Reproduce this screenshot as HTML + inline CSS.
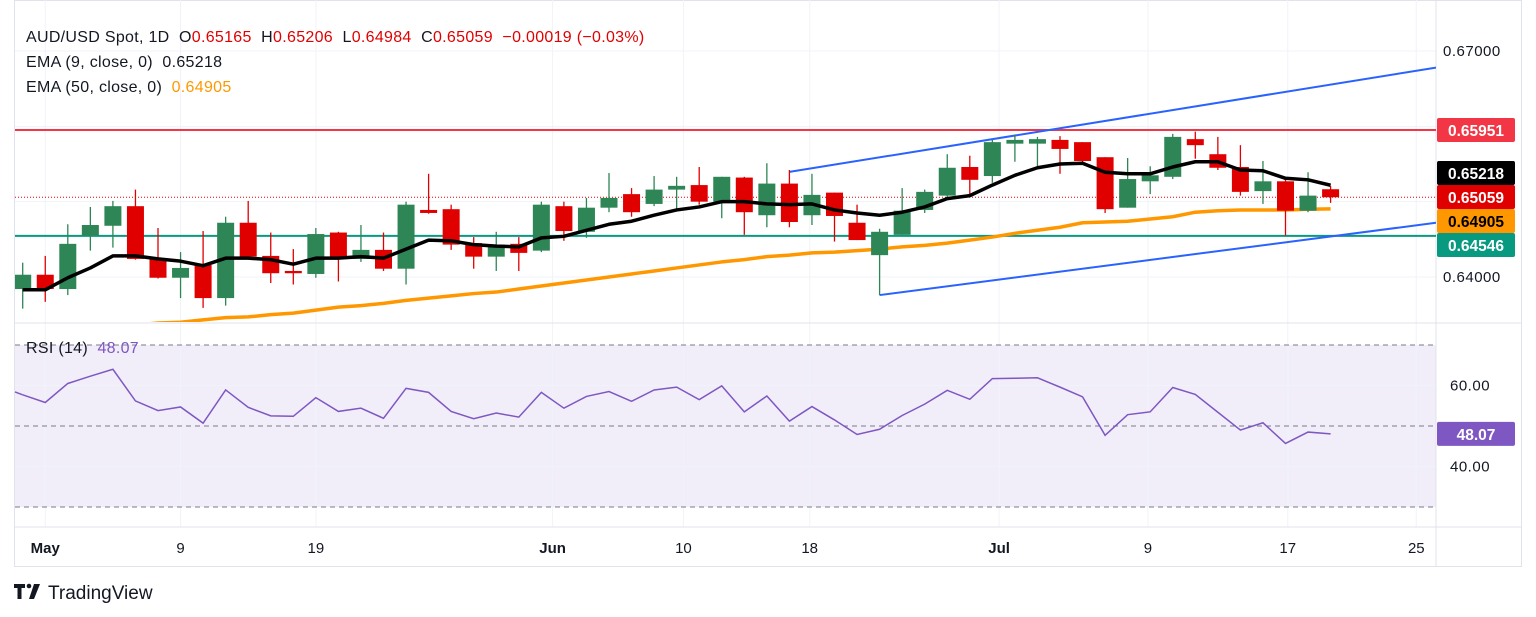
<!DOCTYPE html>
<html><head><meta charset="utf-8">
<style>
html,body{margin:0;padding:0;background:#fff;}
body{width:1536px;height:617px;position:relative;overflow:hidden;font-family:"Liberation Sans",sans-serif;}
svg{position:absolute;left:0;top:0;}
</style></head>
<body>
<svg id="chart" width="1536" height="617" xmlns="http://www.w3.org/2000/svg" font-family="Liberation Sans, sans-serif"></svg>
<script>
const opens=[.6384,.6403,.6384,.6455,.6468,.6494,.6425,.6399,.6416,.6372,.6472,.6428,.6408,.6404,.6459,.6424,.6436,.6411,.6489,.6490,.6445,.6427,.6444,.6435,.6494,.6460,.6492,.6510,.6497,.6516,.6522,.6500,.6532,.6482,.6524,.6482,.6512,.6472,.6429,.6456,.6489,.6508,.6546,.6534,.6577,.6577,.6582,.6579,.6559,.6492,.6527,.6533,.6583,.6563,.6546,.6514,.6527,.6488,.65165];
const highs=[.6419,.6428,.6470,.6493,.6501,.6516,.6465,.6433,.6461,.6480,.6501,.6459,.6437,.6465,.6460,.6469,.6459,.6500,.6537,.6496,.6453,.6460,.6453,.6500,.6500,.6505,.6538,.6518,.6534,.6533,.6546,.6533,.6533,.6551,.6542,.6537,.6512,.6496,.6464,.6518,.6516,.6563,.6561,.6583,.6589,.6586,.6587,.6579,.6559,.6558,.6547,.6590,.6593,.6586,.6575,.6554,.6533,.6539,.65206];
const lows=[.6358,.6367,.6376,.6435,.6439,.6423,.6398,.6372,.6359,.6362,.6424,.6392,.6390,.6399,.6394,.6420,.6408,.6390,.6484,.6436,.6411,.6408,.6408,.6433,.6448,.6452,.6486,.6480,.6494,.6489,.6496,.6478,.6456,.6466,.6466,.6469,.6447,.6449,.6376,.6456,.6485,.6506,.6510,.6525,.6553,.6543,.6537,.6549,.6485,.6492,.6510,.6530,.6557,.6542,.6508,.6497,.6455,.6486,.64984];
const closes=[.6403,.6384,.6444,.6469,.6494,.6424,.6399,.6412,.6372,.6472,.6427,.6405,.6405,.6457,.6424,.6436,.6411,.6496,.6485,.6443,.6427,.6443,.6432,.6496,.6461,.6492,.6505,.6486,.6516,.6521,.6500,.6533,.6486,.6524,.6473,.6509,.6481,.6449,.6460,.6488,.6513,.6545,.6529,.6579,.6582,.6583,.6570,.6554,.6490,.6530,.6535,.6586,.6575,.6545,.6513,.6527,.6488,.6508,.65059];
const ema9=[.6383,.6383,.6399,.6412,.6428,.6428,.6424,.6421,.6415,.6425,.6425,.6423,.6417,.6425,.6425,.6427,.6425,.6437,.6449,.6448,.6443,.6441,.6440,.6452,.6454,.6462,.6470,.6474,.6482,.6489,.6493,.6500,.6500,.6497,.6496,.6497,.6489,.6485,.6482,.6486,.6493,.6504,.6508,.6522,.6535,.6545,.6550,.6551,.6539,.6537,.6537,.6546,.6553,.6553,.6542,.6541,.6531,.6529,.65218];
const ema50=[.6330,.6331,.6332,.6334,.6335,.6336,.6339,.6340,.6343,.6346,.6347,.6350,.6352,.6356,.6360,.6362,.6365,.6369,.6372,.6375,.6378,.6380,.6384,.6388,.6392,.6396,.6400,.6404,.6408,.6412,.6416,.6420,.6423,.6427,.6429,.6432,.6433,.6435,.6437,.6440,.6442,.6445,.6449,.6453,.6458,.6462,.6466,.6472,.6473,.6474,.6477,.6480,.6486,.6488,.6489,.6489,.6489,.6490,.64905];
const rsi=[57.7,55.8,60.5,62.3,64.0,56.2,53.8,54.7,50.7,58.9,54.6,52.5,52.4,57.0,53.6,54.4,51.9,59.3,58.3,53.6,51.8,53.2,52.2,58.3,54.4,57.3,58.5,56.1,58.9,59.6,56.5,59.9,53.5,57.4,51.2,54.8,51.5,47.9,49.2,52.6,55.4,58.8,56.6,61.7,61.8,61.9,59.6,57.2,47.7,52.8,53.5,59.5,57.8,53.4,49.0,50.8,45.7,48.5,48.07];
const xLabels=["May","9","19","Jun","10","18","Jul","9","17","25"];
const xLabelIdx=[1,7,13,23.5,29.3,34.9,43.3,49.9,56.1,61.8];
const priceTicks=[0.67,0.64];
const rsiTicks=[60,40];
const levels=[0.65951,0.64546];

const NS="http://www.w3.org/2000/svg";
const svg=document.getElementById('chart');
const X0=22.7, DX=22.55, L=15, R=1436;
const x=i=>X0+i*DX;
const y=p=>51+(0.67-p)*7533;
const ry=v=>426-(v-50)*4.05;
function el(tag,attrs,parent){const e=document.createElementNS(NS,tag);for(const k in attrs)e.setAttribute(k,attrs[k]);(parent||svg).appendChild(e);return e;}

let f=el('rect',{x:14.5,y:0.5,width:1507,height:566,fill:'none',stroke:'#e0e3eb'});


let band=el('rect',{x:L,y:ry(70),width:R-L,height:ry(30)-ry(70),fill:'#7e57c2','fill-opacity':0.1});


const grid=el('g',{stroke:'#f0f3fa','stroke-width':1});


[0.67,0.66,0.65,0.64].forEach(p=>el('line',{x1:L,x2:R,y1:y(p),y2:y(p)},grid));
[60,40].forEach(v=>el('line',{x1:L,x2:R,y1:ry(v),y2:ry(v)},grid));
xLabelIdx.forEach(i=>el('line',{x1:x(i),x2:x(i),y1:0,y2:527},grid));
el('line',{x1:L,x2:1521,y1:323,y2:323,stroke:'#e0e3eb'});
el('line',{x1:L,x2:1521,y1:527,y2:527,stroke:'#e0e3eb'});
el('line',{x1:R,x2:R,y1:0,y2:566,stroke:'#e0e3eb'});

const defs=el('defs',{});
const cp=el('clipPath',{id:'pc'},defs);el('rect',{x:L,y:0,width:R-L,height:322},cp);
const pg=el('g',{'clip-path':'url(#pc)'});



let rl=el('line',{x1:L,x2:R,y1:y(levels[0]),y2:y(levels[0]),stroke:'#f23645','stroke-width':2},pg);


let gl=el('line',{x1:L,x2:R,y1:y(levels[1]),y2:y(levels[1]),stroke:'#089981','stroke-width':2},pg);


let pl=el('line',{x1:L,x2:R,y1:y(closes[58]),y2:y(closes[58]),stroke:'#e00000','stroke-width':1,'stroke-dasharray':'1 2'},pg);


let ch1=el('line',{x1:x(34),y1:y(0.65395),x2:R,y2:y(0.66780),stroke:'#2962ff','stroke-width':2},pg);


let ch2=el('line',{x1:x(38),y1:y(highs[38]-0.0088),x2:R,y2:y(0.64720),stroke:'#2962ff','stroke-width':2},pg);



let e50=el('polyline',{points:ema50.map((v,i)=>x(i)+','+y(v)).join(' '),fill:'none',stroke:'#ff9800','stroke-width':3.5,'stroke-linejoin':'round'},pg);


closes.forEach((c,i)=>{
  const o=opens[i],up=c>=o,col=up?'#2e8555':'#e00000';
  const g=el('g',{},pg);
  
  
  el('line',{x1:x(i),x2:x(i),y1:y(highs[i]),y2:y(lows[i]),stroke:col,'stroke-width':1.3},g);
  const t=y(Math.max(o,c)),b=y(Math.min(o,c));
  el('rect',{x:x(i)-8.5,y:t,width:17,height:Math.max(b-t,1.5),fill:col},g);
});
let e9=el('polyline',{points:ema9.map((v,i)=>x(i)+','+y(v)).join(' '),fill:'none',stroke:'#000','stroke-width':3.5,'stroke-linejoin':'round'},pg);



[70,50,30].forEach(v=>{let d=el('line',{x1:L,x2:R,y1:ry(v),y2:ry(v),stroke:'#787b86','stroke-dasharray':'5 4'});});
let rl2=el('polyline',{points:rsi.map((v,i)=>x(i)+','+ry(v)).join(' '),'fill':'none',stroke:'#7e57c2','stroke-width':1.5});


el('line',{x1:L,y1:ry(58.4),x2:x(0),y2:ry(rsi[0]),stroke:'#7e57c2','stroke-width':1.5});

function txt(s,xx,yy,attrs,name){const t=el('text',Object.assign({x:xx,y:yy,'font-size':14,fill:'#131722'},attrs||{}));t.textContent=s;return t;}
priceTicks.forEach(p=>txt(p.toFixed(5),1443,y(p)+5,{'font-size':15,'letter-spacing':0.5},'price-tick'));
rsiTicks.forEach(v=>txt(v.toFixed(2),1450,ry(v)+5,{'font-size':15,'letter-spacing':0.5},'rsi-tick'));
function box(val,yy,bg,fg,name){const g=el('g',{});
 el('rect',{x:1437,y:yy-12,width:78,height:24,fill:bg,rx:2},g);
 const t=el('text',{x:1476,y:yy+6,'font-size':15.5,'font-weight':'bold',fill:fg,'text-anchor':'middle'},g);t.textContent=val;}
box('0.65951',y(levels[0]),'#f23645','#fff','resistance-label');
box('0.65218',173,'#000','#fff','ema9-label');
box('0.65059',197,'#e00000','#fff','price-label');
box('0.64905',221,'#ff9800','#000','ema50-label');
box('0.64546',245,'#089981','#fff','support-label');
box('48.07',ry(48.07),'#7e57c2','#fff','rsi-label');
xLabels.forEach((s,i)=>txt(s,x(xLabelIdx[i]),553,{'text-anchor':'middle','font-size':15,'font-weight':(s==='May'||s==='Jun'||s==='Jul')?'bold':'normal'},'x-tick'));

const LS={'font-size':16,'letter-spacing':0.3,style:'white-space:pre'};
const h=el('text',Object.assign({x:26,y:42,fill:'#131722'},LS));


h.innerHTML='AUD/USD Spot, 1D  O<tspan fill="#e00000">0.65165</tspan>  H<tspan fill="#e00000">0.65206</tspan>  L<tspan fill="#e00000">0.64984</tspan>  C<tspan fill="#e00000">0.65059</tspan>  <tspan fill="#e00000">−0.00019 (−0.03%)</tspan>';
txt('EMA (9, close, 0)  0.65218',26,67,LS,'ema9-legend');
const e5=txt('EMA (50, close, 0)  ',26,92,LS,'ema50-legend');
const ts=el('tspan',{fill:'#ff9800'},e5);ts.textContent='0.64905';
const rs=txt('RSI (14)  ',26,353,LS,'rsi-legend');
const ts2=el('tspan',{fill:'#7e57c2'},rs);ts2.textContent='48.07';
const lg=el('g',{});
el('path',{d:'M14 584h11v4h-3.5v11h-4v-11H14z M34 584h6l-6 15h-5z',fill:'#131722'},lg);
el('circle',{cx:29,cy:586,r:2.3,fill:'#131722'},lg);
const lt=el('text',{x:48,y:599,'font-size':19,fill:'#131722'},lg);lt.textContent='TradingView';
</script>
</body></html>
